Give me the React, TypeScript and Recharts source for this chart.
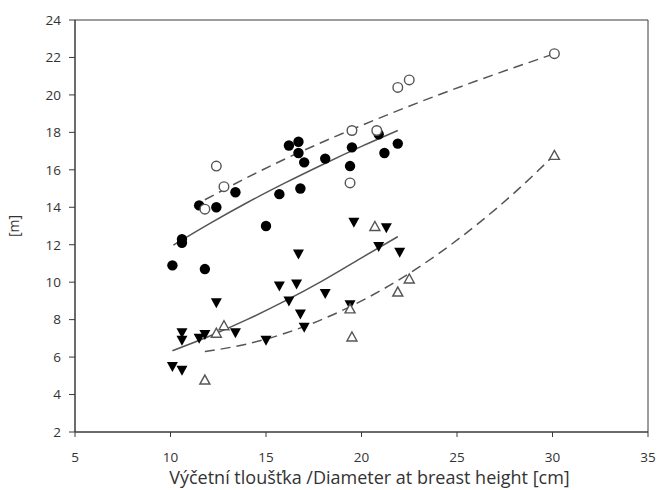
import React from 'react';
import { ScatterChart, Scatter, XAxis, YAxis, ReferenceArea, Label } from 'recharts';

// DBH [cm] vs tree height [m]
const filledCircles = [
  [10.1, 10.9], [10.6, 12.3], [10.6, 12.1], [11.5, 14.1], [11.8, 10.7], [12.4, 14.0],
  [13.4, 14.8], [15.0, 13.0], [15.7, 14.7], [16.2, 17.3], [16.7, 17.5], [16.7, 16.9],
  [17.0, 16.4], [16.8, 15.0], [18.1, 16.6], [19.5, 17.2], [19.4, 16.2], [20.9, 17.9],
  [21.2, 16.9], [21.9, 17.4],
];
const openCircles = [
  [11.8, 13.9], [12.4, 16.2], [12.8, 15.1], [19.5, 18.1], [19.4, 15.3], [20.8, 18.1],
  [21.9, 20.4], [22.5, 20.8], [30.1, 22.2],
];
const filledTriangles = [
  [10.1, 5.5], [10.6, 5.3], [10.6, 7.3], [10.6, 6.9], [11.5, 7.0], [11.8, 7.2],
  [12.4, 8.9], [13.4, 7.3], [15.0, 6.9], [15.7, 9.8], [16.2, 9.0], [16.6, 9.9],
  [16.7, 11.5], [16.8, 8.3], [17.0, 7.6], [18.1, 9.4], [19.4, 8.8], [19.6, 13.2],
  [20.9, 11.9], [21.3, 12.9], [22.0, 11.6],
];
const openTriangles = [
  [11.8, 4.8], [12.4, 7.3], [12.8, 7.7], [19.4, 8.6], [19.5, 7.1], [20.7, 13.0],
  [21.9, 9.5], [22.5, 10.2], [30.1, 16.8],
];

// fitted curves, points
const curveFilledCircles = [
  [10.15, 11.98], [12, 13.1], [14, 14.24], [16, 15.3], [18, 16.3], [20, 17.25], [21.9, 18.1],
];
const curveOpenCircles = [
  [11.8, 14.4], [14, 15.58], [16, 16.58], [18, 17.5], [20, 18.37], [22, 19.2],
  [24, 19.99], [26, 20.74], [28, 21.46], [30.1, 22.2],
];
const curveFilledTriangles = [
  [10.1, 6.34], [12, 7.1], [14, 8.0], [16, 9.0], [18, 10.1], [20, 11.3], [21.9, 12.43],
];
const curveOpenTriangles = [
  [11.8, 6.29], [14, 6.7], [16, 7.27], [18, 8.04], [20, 9.0], [22, 10.15],
  [24, 11.5], [26, 13.04], [28, 14.77], [30.1, 16.8],
];

const xTicks = [5, 10, 15, 20, 25, 30, 35];
const yTicks = [2, 4, 6, 8, 10, 12, 14, 16, 18, 20, 22, 24];

const toPts = (rows: number[][]) => rows.map(([x, y]) => ({ x, y }));

const AXIS = '#3a3a3a';
const LINE = '#555';
const FONT = '"Open Sans", sans-serif';

const FilledCircle = (p: any) => <circle cx={p.cx} cy={p.cy} r={5.2} fill="#000" />;
const OpenCircle = (p: any) => (
  <circle cx={p.cx} cy={p.cy} r={4.8} fill="#fff" stroke={LINE} strokeWidth={1.4} />
);
const FilledTriangle = (p: any) => (
  <polygon
    points={`${p.cx - 5.5},${p.cy - 4.5} ${p.cx + 5.5},${p.cy - 4.5} ${p.cx},${p.cy + 5.5}`}
    fill="#000"
  />
);
const OpenTriangle = (p: any) => (
  <polygon
    points={`${p.cx - 5},${p.cy + 4.5} ${p.cx + 5},${p.cy + 4.5} ${p.cx},${p.cy - 4.5}`}
    fill="#fff"
    stroke={LINE}
    strokeWidth={1.4}
  />
);
const NoDot = () => <g />;

export default function App() {
  const tick = { fontSize: 13.5, fill: '#333', fontFamily: FONT };
  const solid = { stroke: LINE, strokeWidth: 1.5 };
  const dashed = { stroke: LINE, strokeWidth: 1.5, strokeDasharray: '10 6' };
  return (
    <div style={{ position: 'absolute', left: 0, top: 0, background: '#fff' }}>
      <ScatterChart width={657} height={490} margin={{ top: 20, right: 9, left: 5, bottom: 8 }}>
        <XAxis
          type="number"
          dataKey="x"
          domain={[5, 35]}
          ticks={xTicks}
          allowDataOverflow
          height={50}
          tickSize={5}
          tickMargin={15}
          tick={tick}
          stroke={AXIS}
        >
          <Label
            value="Výčetní tloušťka /Diameter at breast height [cm]"
            position="insideBottom"
            offset={-2}
            dx={8}
            style={{ fontSize: 18, fill: '#333', fontFamily: FONT }}
          />
        </XAxis>
        <YAxis
          type="number"
          dataKey="y"
          domain={[2, 24]}
          ticks={yTicks}
          allowDataOverflow
          width={70}
          tickSize={6}
          tickMargin={8}
          tick={tick}
          stroke={AXIS}
        >
          <Label
            value="[m]"
            angle={-90}
            position="insideLeft"
            offset={9}
            style={{ fontSize: 14, fill: '#333', fontFamily: FONT, textAnchor: 'middle' }}
          />
        </YAxis>
        <ReferenceArea x1={5} x2={35} y1={2} y2={24} fill="none" stroke={AXIS} strokeWidth={1} />

        <Scatter data={toPts(curveFilledCircles)} shape={NoDot} line={solid} lineJointType="monotoneX" isAnimationActive={false} />
        <Scatter data={toPts(curveOpenCircles)} shape={NoDot} line={dashed} lineJointType="monotoneX" isAnimationActive={false} />
        <Scatter data={toPts(curveFilledTriangles)} shape={NoDot} line={solid} lineJointType="monotoneX" isAnimationActive={false} />
        <Scatter data={toPts(curveOpenTriangles)} shape={NoDot} line={dashed} lineJointType="monotoneX" isAnimationActive={false} />

        <Scatter data={toPts(filledCircles)} shape={FilledCircle} isAnimationActive={false} />
        <Scatter data={toPts(openCircles)} shape={OpenCircle} isAnimationActive={false} />
        <Scatter data={toPts(filledTriangles)} shape={FilledTriangle} isAnimationActive={false} />
        <Scatter data={toPts(openTriangles)} shape={OpenTriangle} isAnimationActive={false} />
      </ScatterChart>
    </div>
  );
}
